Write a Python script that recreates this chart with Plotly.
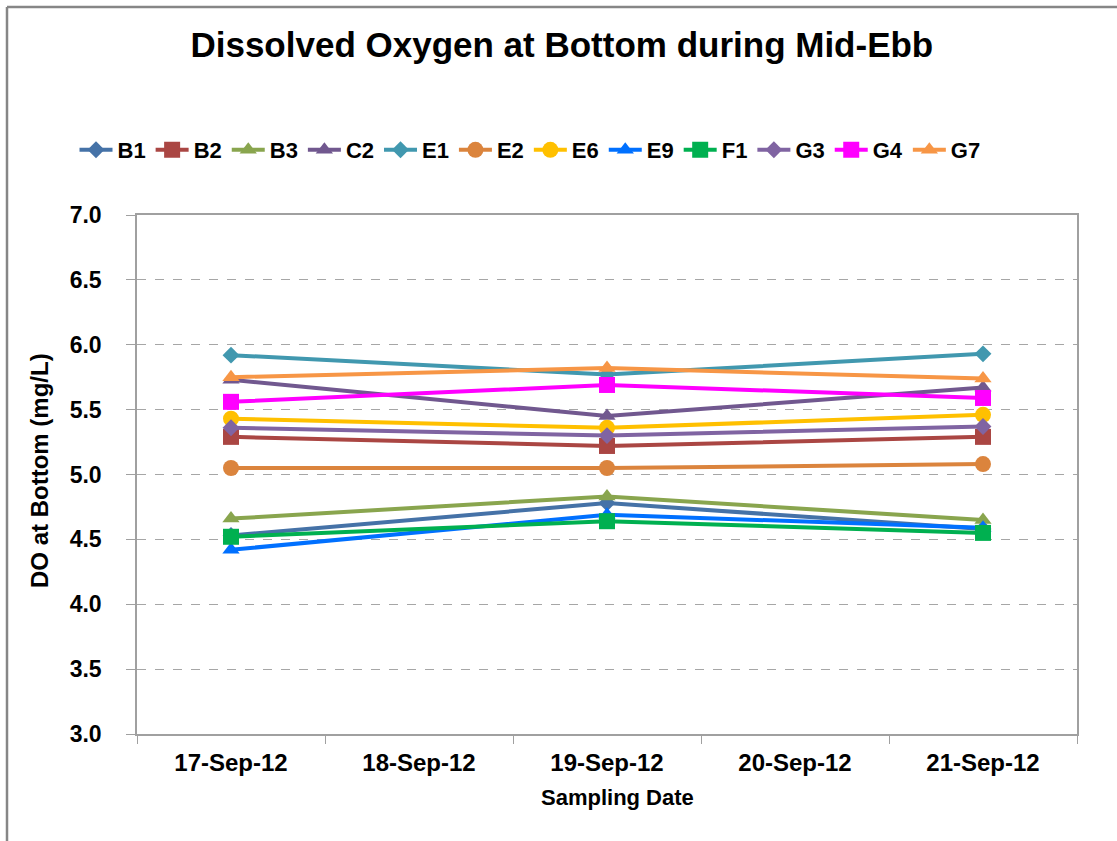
import plotly.graph_objects as go

dates = ["17-Sep-12", "18-Sep-12", "19-Sep-12", "20-Sep-12", "21-Sep-12"]
stations = ["B1", "B2", "B3", "C2", "E1", "E2", "E6", "E9", "F1", "G3", "G4", "G7"]

B1 = [4.53, None, 4.78, None, 4.58]
B2 = [5.29, None, 5.22, None, 5.29]
B3 = [4.66, None, 4.83, None, 4.65]
C2 = [5.73, None, 5.45, None, 5.67]
E1 = [5.92, None, 5.77, None, 5.93]
E2 = [5.05, None, 5.05, None, 5.08]
E6 = [5.43, None, 5.36, None, 5.46]
E9 = [4.42, None, 4.69, None, 4.59]
F1 = [4.52, None, 4.64, None, 4.55]
G3 = [5.36, None, 5.30, None, 5.37]
G4 = [5.56, None, 5.69, None, 5.59]
G7 = [5.75, None, 5.82, None, 5.74]

y_ticks = [3.0, 3.5, 4.0, 4.5, 5.0, 5.5, 6.0, 6.5, 7.0]

values = [B1, B2, B3, C2, E1, E2, E6, E9, F1, G3, G4, G7]
colors = ["#4572A7", "#AA4643", "#89A54E", "#71588F", "#4198AF", "#DB843D",
          "#FFC000", "#0070FF", "#00B050", "#8064A2", "#FF00FF", "#F79646"]
symbols = ["diamond", "square", "triangle-up", "triangle-up", "diamond", "circle",
           "circle", "triangle-up", "square", "diamond", "square", "triangle-up"]
sizes = [13, 16, 15, 15, 13, 16, 16, 15, 16, 13, 16, 15]

fig = go.Figure()
for name, vals, c, s, sz in zip(stations, values, colors, symbols, sizes):
    fig.add_trace(go.Scatter(
        x=dates, y=vals, name=name, mode="lines+markers", connectgaps=True,
        line=dict(color=c, width=4),
        marker=dict(symbol=s, size=sz, color=c),
    ))

W, H = 1117, 841
L, R, T, B = 137, 40, 215, 107
pw, ph = W - L - R, H - T - B

def px2paper_x(px):
    return (px - L) / pw

def px2paper_y(py):
    return (H - B - py) / ph

fig.add_shape(type="line", xref="paper", yref="paper",
              x0=px2paper_x(7), x1=px2paper_x(W + 5), y0=px2paper_y(7), y1=px2paper_y(7),
              line=dict(color="#868686", width=2.5))
fig.add_shape(type="line", xref="paper", yref="paper",
              x0=px2paper_x(7), x1=px2paper_x(7), y0=px2paper_y(7), y1=px2paper_y(H + 5),
              line=dict(color="#868686", width=2.5))

fam = "Liberation Sans, Arial, sans-serif"

fig.add_annotation(text="<b>DO at Bottom (mg/L)</b>", xref="paper", yref="paper",
                   x=px2paper_x(39), y=px2paper_y(471), textangle=-90,
                   showarrow=False, xanchor="center", yanchor="middle",
                   font=dict(family=fam, size=24, color="black"))
fig.add_annotation(text="<b>Sampling Date</b>", xref="paper", yref="paper",
                   x=px2paper_x(617), y=px2paper_y(797), showarrow=False,
                   xanchor="center", yanchor="middle",
                   font=dict(family=fam, size=22, color="black"))

fig.update_layout(
    width=W, height=H,
    margin=dict(l=L, r=R, t=T, b=B),
    paper_bgcolor="white", plot_bgcolor="white",
    title=dict(text="<b>Dissolved Oxygen at Bottom during Mid-Ebb</b>",
               x=0.503, xref="container", xanchor="center", y=1 - 45 / H, yanchor="middle",
               font=dict(family=fam, size=35, color="black")),
    legend=dict(orientation="h", x=530 / W, xref="container", xanchor="center",
                y=1 - 150 / H, yref="container", yanchor="middle",
                font=dict(family=fam, size=22, color="black", weight="bold"),
                itemwidth=33, tracegroupgap=0, traceorder="normal"),
    showlegend=True,
)
fig.update_xaxes(
    type="category", categoryorder="array", categoryarray=dates,
    range=[-0.5, 4.5],
    tickvals=dates, ticktext=[f"<b>{d}</b>" for d in dates],
    automargin=False,
    showline=True, linecolor="#A0A0A0", linewidth=1.5, mirror=True,
    ticks="outside", tickson="boundaries", ticklen=8, tickcolor="#A0A0A0",
    ticklabelstandoff=6,
    showgrid=False,
    tickfont=dict(family=fam, size=24, color="black"),
)
fig.update_yaxes(
    range=[3.0, 7.0],
    tickvals=y_ticks,
    ticktext=[f"<b>{v:.1f}</b>" for v in y_ticks],
    automargin=False,
    showline=True, linecolor="#A0A0A0", linewidth=1.5, mirror=True,
    ticks="outside", ticklen=9, tickcolor="#A0A0A0",
    ticklabelstandoff=20,
    showgrid=True, gridcolor="#A6A6A6", griddash="dash", gridwidth=1,
    zeroline=False,
    tickfont=dict(family=fam, size=23, color="black"),
)

fig.write_html("out.html", config={"displayModeBar": False},
               post_script="document.body.style.margin='0';")
